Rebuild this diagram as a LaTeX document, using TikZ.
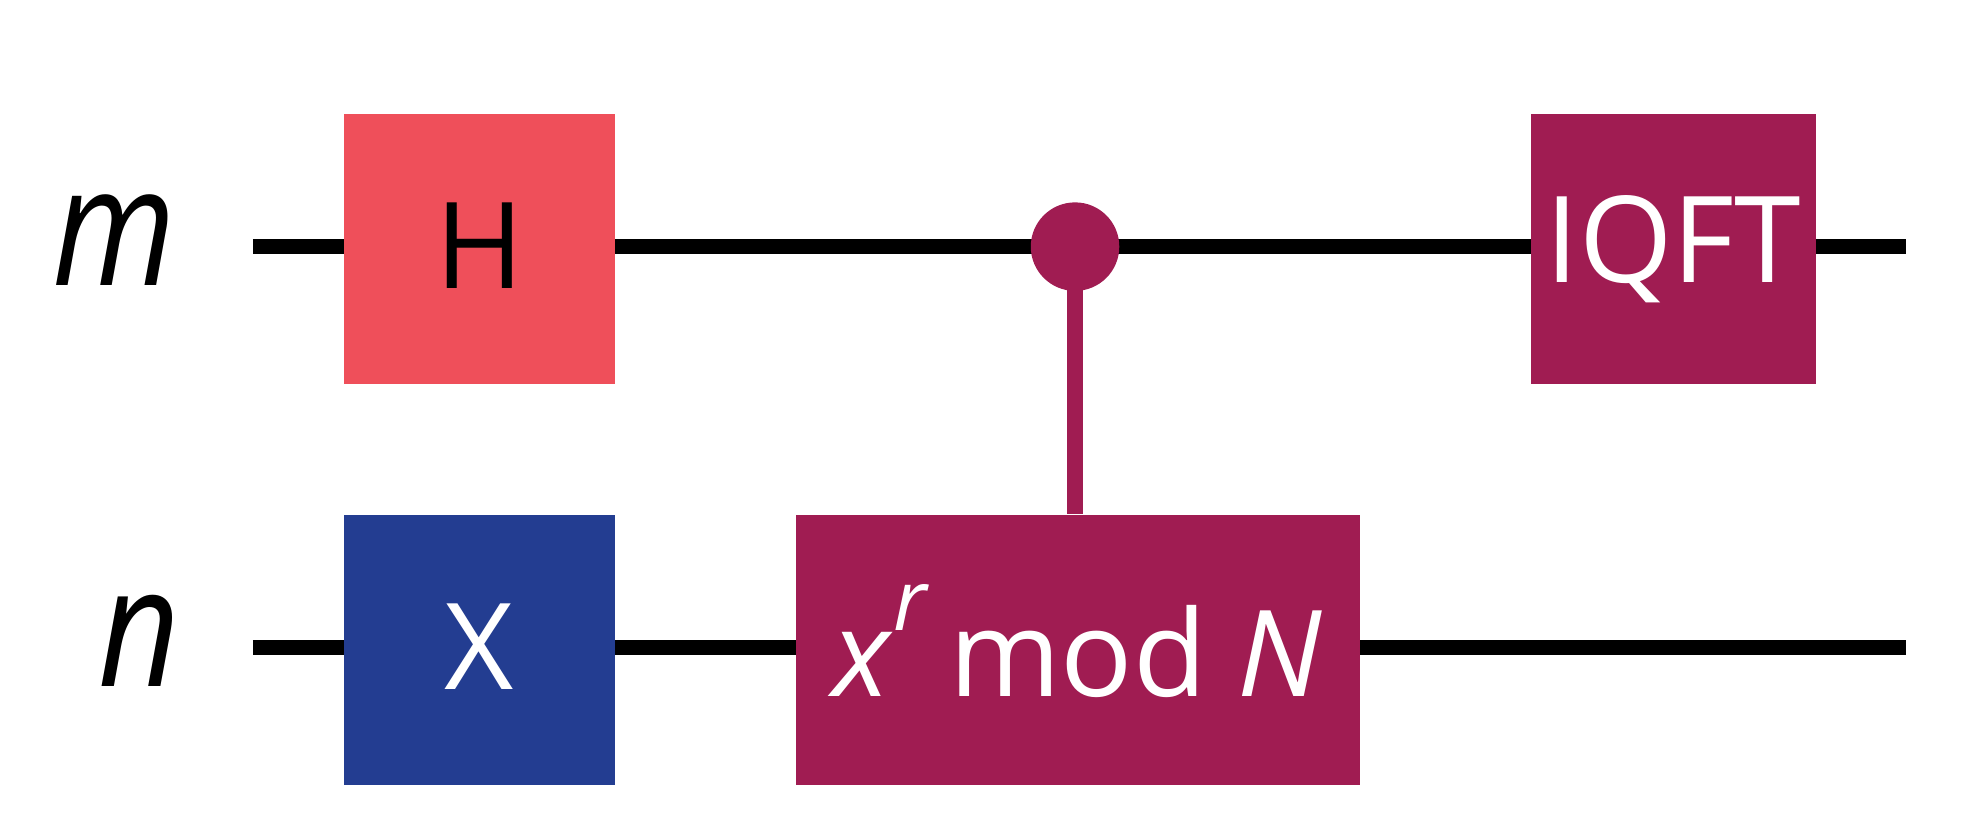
\documentclass[tikz,border=0pt]{standalone}
\usepackage{fontspec}
\setmainfont{Open Sans}
\definecolor{hred}{HTML}{EF4F5A}
\definecolor{xblue}{HTML}{233D91}
\definecolor{qpurp}{HTML}{A01C52}
\begin{document}
\begin{tikzpicture}[x=0.02cm,y=-0.02cm,
  wire/.style={line width=0.24cm,black},
  gate/.style={draw=none,minimum height=4.28cm,inner sep=0pt,font=\fontsize{54}{60}\selectfont},
  lab/.style={font=\fontsize{75}{80}\selectfont\itshape}]
\useasboundingbox (0,0) rectangle (1560,663);
\node[lab,xscale=0.85] (m) at (90,190) {m};
\node[lab,xscale=0.85] (n) at (110,507) {n};
\coordinate (ms) at (200,195); \coordinate (me) at (1507,195);
\coordinate (ns) at (200,512); \coordinate (ne) at (1507,512);
\draw[wire] (ms) -- (me);
\draw[wire] (ns) -- (ne);
\node[gate,fill=hred,minimum width=4.28cm,text=black] (H) at (379,197) {\raisebox{0.12cm}{H}};
\node[gate,fill=xblue,minimum width=4.28cm,text=white] (X) at (379,514) {\raisebox{0.12cm}{X}};
\node[gate,fill=qpurp,minimum width=8.92cm,text=white] (U) at (852,514) {\raisebox{0.3cm}{\textit{x}\raisebox{0.55em}{\fontsize{38}{40}\selectfont\textit{r}}\,mod \textit{N}}};
\node[gate,fill=qpurp,minimum width=4.5cm,text=white] (Q) at (1323,197) {\raisebox{0.12cm}{IQFT}};
\node[circle,fill=qpurp,minimum size=1.4cm,inner sep=0pt] (c) at (850,195) {};
\draw[qpurp,line width=0.24cm] (c.center) -- (c.center |- U.north);
\end{tikzpicture}
\end{document}
